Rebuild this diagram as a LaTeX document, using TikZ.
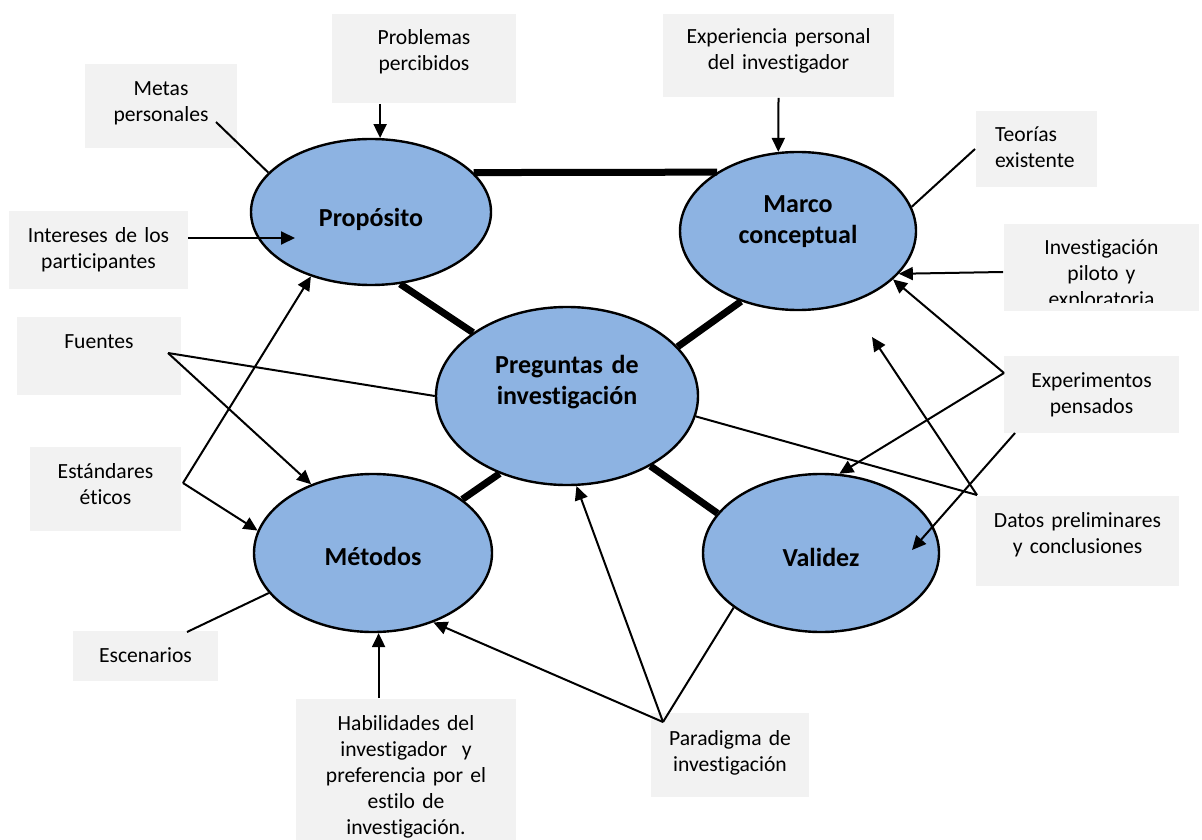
\documentclass[tikz,border=0pt]{standalone}
\usepackage{fontspec}
\setmainfont{Carlito}[Ligatures=NoCommon]
\usetikzlibrary{arrows.meta,shapes.geometric}

\definecolor{boxgray}{HTML}{F2F2F2}
\definecolor{ovalblue}{HTML}{8DB3E2}

\tikzset{
  box/.style={fill=boxgray, inner sep=0pt, align=center,
    font=\fontsize{10.8pt}{13pt}\selectfont},
  oval/.style={ellipse, draw=black, fill=ovalblue, line width=1.2pt,
    inner sep=0pt, align=center,
    font=\fontsize{13pt}{15.5pt}\selectfont\bfseries},
  link/.style={line width=3.5pt},
}

\begin{document}
\begin{tikzpicture}[x=0.5pt, y=-0.5pt, line width=1pt,
    >={Triangle[length=7pt,width=6.5pt]}]
  \useasboundingbox (0,0) rectangle (1202,839);

  % the five ovals
  \node[oval, minimum width=120pt, minimum height=73pt, text width=60pt,
    text height=16.25pt, text depth=1.75pt] (proposito) at (371,212) {Propósito};
  \node[oval, minimum width=118pt, minimum height=79pt, text width=70pt,
    text height=6.25pt, text depth=24.75pt] (marco) at (798,231) {Marco\\conceptual};
  \node[oval, minimum width=131pt, minimum height=89pt, text width=80pt,
    text height=6.25pt, text depth=28.75pt] (preguntas) at (567,396) {Preguntas de\\investigación};
  \node[oval, minimum width=119pt, minimum height=79pt, text width=60pt,
    text height=13.75pt, text depth=1.25pt] (metodos) at (373,553) {Métodos};
  \node[oval, minimum width=118pt, minimum height=79pt, text width=60pt,
    text height=14pt, text depth=1pt] (validez) at (821,553) {Validez};

  % grey boxes
  \node[box, text width=92pt, text height=15.5pt, text depth=29pt]
    (problemas) at (424,58.5) {Problemas\\percibidos};
  \node[box, text width=76pt, text height=16pt, text depth=26pt]
    (metas) at (161,106) {Metas\\personales};
  \node[box, text width=89.5pt, text height=16pt, text depth=23pt]
    (intereses) at (98.5,250) {Intereses de los\\participantes};
  \node[box, text width=115.5pt, text height=15pt, text depth=26.5pt]
    (experiencia) at (778.5,55.5) {Experiencia personal\\del investigador};
  \node[box, align=left, text width=60.5pt, text height=15.5pt, text depth=22.5pt]
    (teorias) at (1036.5,149) {\hspace*{9.5pt}Teorías\\\hspace*{9.5pt}existente};
  \begin{scope}
    \clip (1004,224) rectangle (1199,303);
    \node[box, text width=97.5pt, text height=15.5pt, text depth=27.5pt]
      (investigacion) at (1101.5,267) {Investigación\\piloto y\\exploratoria};
  \end{scope}
  \fill[boxgray] (1004,303) rectangle (1199,311);
  \node[box, text width=82pt, text height=15.5pt, text depth=23.5pt]
    (fuentes) at (99,356) {Fuentes};
  \node[box, text width=75.5pt, text height=15.5pt, text depth=26.5pt]
    (estandares) at (105.5,489) {Estándares\\éticos};
  \node[box, text width=72.5pt, text height=15.5pt, text depth=9.5pt]
    (escenarios) at (145.5,656) {Escenarios};
  \node[box, text width=110pt, text height=15.5pt, text depth=57.5pt]
    (habilidades) at (406,772) {Habilidades del\\investigador\ \ y\\preferencia por el\\estilo de\\investigación.};
  \node[box, text width=79pt, text height=16pt, text depth=26pt]
    (paradigma) at (730,755) {Paradigma de\\investigación};
  \node[box, text width=87.5pt, text height=15.5pt, text depth=23pt]
    (experimentos) at (1091.5,394.5) {Experimentos\\pensados};
  \node[box, text width=101.5pt, text height=15.5pt, text depth=29.5pt]
    (datos) at (1077.5,541) {Datos preliminares\\y conclusiones};

  % free ends of the connectors
  \coordinate (metas-j) at (216,122);
  \coordinate (intereses-j) at (188,238);
  \coordinate (prop-tip) at (295,238);
  \coordinate (fuentes-j) at (168,353);
  \coordinate (estandares-j) at (183,483);
  \coordinate (escenarios-j) at (187,632);
  \coordinate (paradigma-j) at (663,722);
  \coordinate (experimentos-j) at (1004,373);
  \coordinate (experimentos-k) at (1015,433);
  \coordinate (datos-j) at (977,495);
  \coordinate (datos-tip) at (872,337);
  \coordinate (validez-tip) at (912,550);

  % thick links between the ovals
  \draw[link] (proposito.21) -- (marco.144);
  \draw[link] (proposito.292) -- (preguntas.146);
  \draw[link] (marco.231) -- (preguntas.24);
  \draw[link] (preguntas.229) -- (metodos.31);
  \draw[link] (preguntas.320) -- (validez.159);

  % thin connectors
  \draw[->] (problemas.south -| proposito.83) -- (proposito.83);
  \draw (metas-j) -- (proposito.159);
  \draw[->] (intereses-j) -- (prop-tip);
  \draw[->] (experiencia.south) -- (marco.104);
  \draw (teorias.west) -- (marco.12);
  \draw[->] ([yshift=-2.5pt]investigacion.west) -- (marco.337);
  \draw (fuentes-j) -- (preguntas.west);
  \draw[->] (fuentes-j) -- (metodos.132);
  \draw[->] (estandares-j) -- (proposito.227);
  \draw[->] (estandares-j) -- (metodos.169);
  \draw (escenarios-j) -- (metodos.201);
  \draw[->] (metodos.274 |- habilidades.north) -- (metodos.274);
  \draw[->] (paradigma-j) -- (metodos.311);
  \draw[->] (paradigma-j) -- (preguntas.276);
  \draw (paradigma-j) -- (validez.212);
  \draw[->] (experimentos-j) -- (marco.333);
  \draw[->] (experimentos-j) -- (validez.77);
  \draw[->] (experimentos-k) -- (validez-tip);
  \draw[->] (datos-j) -- (datos-tip);
  \draw (datos-j) -- (preguntas.351);
\end{tikzpicture}
\end{document}
